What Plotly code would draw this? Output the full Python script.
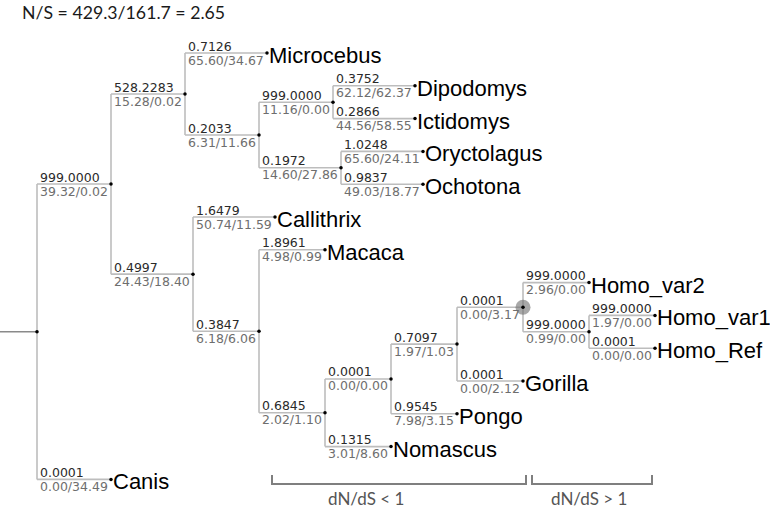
import plotly.graph_objects as go

# tree: child, parent, omega (dN/dS), N/S substitutions, in drawing order (top child first)
child = ["A", "Canis", "B", "C", "Microcebus", "D", "E", "F",
         "Dipodomys", "Ictidomys", "Oryctolagus", "Ochotona",
         "Callithrix", "G", "Macaca", "H", "I", "Nomascus",
         "J", "Pongo", "K", "Gorilla", "Homo_var2", "L", "Homo_var1", "Homo_Ref"]
parent = ["root", "root", "A", "A", "B", "B", "D", "D",
          "E", "E", "F", "F",
          "C", "C", "G", "G", "H", "H",
          "I", "I", "J", "J", "K", "K", "L", "L"]
omega = ["999.0000", "0.0001", "528.2283", "0.4997", "0.7126", "0.2033", "999.0000", "0.1972",
         "0.3752", "0.2866", "1.0248", "0.9837",
         "1.6479", "0.3847", "1.8961", "0.6845", "0.0001", "0.1315",
         "0.7097", "0.9545", "0.0001", "0.0001", "999.0000", "999.0000", "999.0000", "0.0001"]
ns = ["39.32/0.02", "0.00/34.49", "15.28/0.02", "24.43/18.40", "65.60/34.67", "6.31/11.66",
      "11.16/0.00", "14.60/27.86", "62.12/62.37", "44.56/58.55", "65.60/24.11", "49.03/18.77",
      "50.74/11.59", "6.18/6.06", "4.98/0.99", "2.02/1.10", "0.00/0.00", "3.01/8.60",
      "1.97/1.03", "7.98/3.15", "0.00/3.17", "0.00/2.12", "2.96/0.00", "0.99/0.00",
      "1.97/0.00", "0.00/0.00"]
highlight = ["K"]
title = "N/S = 429.3/161.7 = 2.65"
group_labels = ["dN/dS < 1", "dN/dS > 1"]

# layout constants (pixels)
ROOT_X, STEM_X = 37, 0
TIP_Y0, TIP_DY = 53, 32.8
CHAR_W, PAD = 8.0, -6

kids = {}
edge = {}
for c, p, w, s in zip(child, parent, omega, ns):
    kids.setdefault(p, []).append(c)
    edge[c] = (p, w, s)

x, y = {"root": ROOT_X}, {}
tips = []


def place(node):
    # branch drawn just long enough for its two labels, tips evenly spaced
    for c in kids.get(node, []):
        p, w, s = edge[c]
        x[c] = x[p] + CHAR_W * max(len(w), len(s)) + PAD
        place(c)
    if node in kids:
        y[node] = (y[kids[node][0]] + y[kids[node][-1]]) / 2
    else:
        y[node] = TIP_Y0 + TIP_DY * len(tips)
        tips.append(node)


place("root")

lx, ly = [], []
for c in child:
    p = edge[c][0]
    lx += [x[p], x[c], None]
    ly += [y[c], y[c], None]
for p, ch in kids.items():
    lx += [x[p], x[p], None]
    ly += [y[ch[0]], y[ch[-1]], None]

fig = go.Figure()
fig.add_trace(go.Scatter(x=[STEM_X, ROOT_X], y=[y["root"]] * 2, mode="lines",
                         line=dict(color="#8a8a8a", width=1.5), hoverinfo="skip"))
fig.add_trace(go.Scatter(x=lx, y=ly, mode="lines",
                         line=dict(color="#bdbdbd", width=1.6), hoverinfo="skip"))
fig.add_trace(go.Scatter(x=[x[n] for n in highlight], y=[y[n] for n in highlight], mode="markers",
                         marker=dict(size=15, color="rgba(110,110,110,0.6)"), hoverinfo="skip"))
nodes = list(x.keys())
fig.add_trace(go.Scatter(x=[x[n] for n in nodes], y=[y[n] for n in nodes], mode="markers",
                         marker=dict(size=3.5, color="black"), hoverinfo="skip"))

lab = "DejaVu Sans"
for c in child:
    p, w, s = edge[c]
    fig.add_annotation(x=x[p] + 1.5, y=y[c] - 7, text=w, showarrow=False, xanchor="left",
                       yanchor="middle", borderpad=0, font=dict(family=lab, size=12.5, color="#2a2a2a"))
    fig.add_annotation(x=x[p] + 1.5, y=y[c] + 7, text=s, showarrow=False, xanchor="left",
                       yanchor="middle", borderpad=0, font=dict(family=lab, size=12.5, color="#6e6e6e"))

for t in tips:
    fig.add_annotation(x=x[t] + 1, y=y[t] + 2.5, text=t, showarrow=False, xanchor="left",
                       yanchor="middle", borderpad=0,
                       font=dict(family="Liberation Sans, Arial", size=22, color="black"))

fig.add_annotation(x=20, y=12, text=title, showarrow=False, xanchor="left", yanchor="middle",
                   font=dict(family="Lato, Open Sans", size=17.7, color="#1a1a1a"))

# dN/dS brackets under the tree
spans = [(272, 526, 366), (532, 652, 589)]
bx, by = [], []
for (a, b, _) in spans:
    bx += [a, a, b, b, None]
    by += [475, 484, 484, 475, None]
fig.add_trace(go.Scatter(x=bx, y=by, mode="lines", line=dict(color="#7f7f7f", width=2),
                         hoverinfo="skip"))
for (a, b, cx), g in zip(spans, group_labels):
    fig.add_annotation(x=cx, y=498, text=g, showarrow=False, xanchor="center", yanchor="middle",
                       font=dict(family="Lato, Open Sans", size=17, color="#555555"))

fig.update_xaxes(range=[0, 770], visible=False, fixedrange=True)
fig.update_yaxes(range=[511, 0], visible=False, fixedrange=True)
fig.update_layout(width=770, height=511, margin=dict(l=0, r=0, t=0, b=0),
                  plot_bgcolor="white", paper_bgcolor="white", showlegend=False)

# drop the browser's default 8px body margin so the figure fills the window
fig.write_html("out.html", config={"displayModeBar": False},
               post_script="document.body.style.margin='0';")
